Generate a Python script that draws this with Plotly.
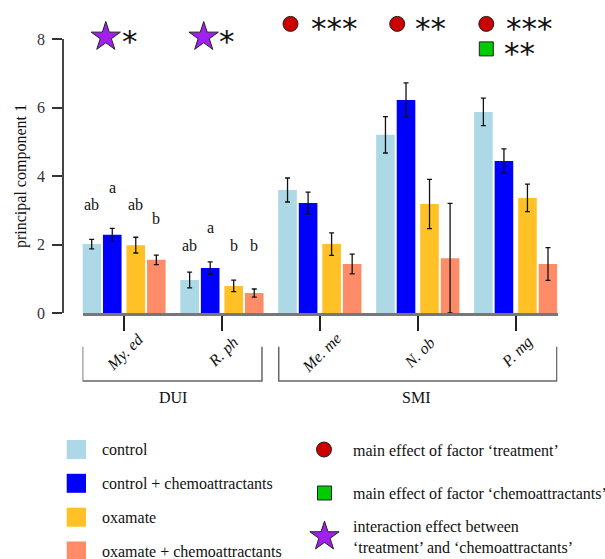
import plotly.graph_objects as go

# ---------------- data ----------------
species = ["My. ed", "R. ph", "Me. me", "N. ob", "P. mg"]
groups = ["DUI", "SMI"]
treatments = ["control", "control + chemoattractants", "oxamate", "oxamate + chemoattractants"]
colors = ["#ADD8E6", "#0000FF", "#FFC125", "#FF8C69"]

ctrl = [2.02, 0.97, 3.60, 5.21, 5.88]
ctrl_se = [0.14, 0.23, 0.35, 0.53, 0.40]
ctrl_chemo = [2.29, 1.32, 3.22, 6.23, 4.45]
ctrl_chemo_se = [0.19, 0.18, 0.32, 0.50, 0.35]
oxa = [1.99, 0.80, 2.02, 3.19, 3.37]
oxa_se = [0.23, 0.17, 0.33, 0.72, 0.40]
oxa_chemo = [1.56, 0.59, 1.44, 1.61, 1.44]
oxa_chemo_se = [0.14, 0.12, 0.29, 1.60, 0.48]

# letters (species 1 and 2) with their heights
letters = [["ab", "a", "ab", "b"], ["ab", "a", "b", "b"]]
letter_y = [[3.19, 3.66, 3.19, 2.78], [1.99, 2.50, 1.99, 1.99]]

# significance: (species index, symbol, stars, row)
sig_species = [1, 2, 3, 4, 5, 5]
sig_symbol = ["star", "star", "circle", "circle", "circle", "square"]
sig_stars = ["*", "*", "***", "**", "***", "**"]
sig_y = [8.07, 8.07, 8.45, 8.45, 8.45, 7.72]

effect_labels = ["main effect of factor ‘treatment’",
                 "main effect of factor ‘chemoattractants’",
                 "interaction effect between<br>‘treatment’ and ‘chemoattractants’"]

values = [ctrl, ctrl_chemo, oxa, oxa_chemo]
errors = [ctrl_se, ctrl_chemo_se, oxa_se, oxa_chemo_se]
offsets = [-0.33, -0.12, 0.12, 0.33]
bar_w = 0.19

W, H = 605, 559
SERIF = "Liberation Serif"
sym_color = {"star": "#A020F0", "circle": "#CD0000", "square": "#00CD00"}
sym_size = {"star": 22, "circle": 15, "square": 14}


def px(x):
    return x / W


def py(y):
    return 1 - y / H


fig = go.Figure()
xs = list(range(1, len(species) + 1))

for k in range(4):
    fig.add_trace(go.Bar(
        x=[x + offsets[k] for x in xs], y=values[k], width=bar_w,
        marker=dict(color=colors[k], line=dict(width=0)),
        error_y=dict(type="data", array=errors[k], color="#111", thickness=1.3, width=2.5),
        showlegend=False, hoverinfo="skip"))

# significance symbols on an extended y scale (same units as y)
sym_dx = {"star": -0.186, "circle": -0.30, "square": -0.30}
star_dx = {"*": 0.056, "**": 0.13, "***": 0.145}
sx, sy, ssym = [], [], []
ann = []
for i, sym, st, y in zip(sig_species, sig_symbol, sig_stars, sig_y):
    dx = sym_dx[sym] if not (i == 4 and sym == "circle") else -0.21
    sx.append(i + dx)
    sy.append(y)
    ssym.append(sym)
    tdx = star_dx[st] if not (i == 5 and sym == "square") else 0.04
    ann.append(dict(x=i + tdx, y=y - 0.03, xref="x", yref="y3", text=st, showarrow=False,
                    font=dict(family="DejaVu Sans", size=31, color="#111"),
                    xanchor="center", yanchor="middle", yshift=-3))
fig.add_trace(go.Scatter(
    x=sx, y=sy, xaxis="x", yaxis="y3", mode="markers", cliponaxis=False,
    marker=dict(symbol=ssym, size=[sym_size[s] for s in ssym], opacity=1,
                color=[sym_color[s] for s in ssym], line=dict(color="#222", width=1)),
    showlegend=False, hoverinfo="skip"))

# letters
for g in range(2):
    for k in range(4):
        ann.append(dict(x=xs[g] + offsets[k], y=letter_y[g][k], xref="x", yref="y",
                        text=letters[g][k], showarrow=False,
                        font=dict(family=SERIF, size=16, color="#111"),
                        xanchor="center", yanchor="middle"))

# species labels (rotated)
for i, s in enumerate(species):
    ann.append(dict(x=xs[i] + 0.015, y=py(352), xref="x", yref="paper",
                    text="<i>" + s + "</i>", showarrow=False, textangle=-45,
                    font=dict(family=SERIF, size=16, color="#111"),
                    xanchor="center", yanchor="middle"))

# group labels and brackets
shapes = []
brackets = [(0.577, 2.409), (2.58, 5.42)]
group_x = [1.5, 3.98]
for (x0, x1), gx, gname in zip(brackets, group_x, groups):
    shapes.append(dict(type="path", xref="x", yref="paper",
                       path=f"M {x0},{py(346.7)} L {x0},{py(381)} L {x1},{py(381)} L {x1},{py(346.7)}",
                       line=dict(color="#666", width=1.5)))
    ann.append(dict(x=gx, y=py(397), xref="x", yref="paper", text=gname, showarrow=False,
                    font=dict(family=SERIF, size=16, color="#111"),
                    xanchor="center", yanchor="middle"))

# y-axis title
ann.append(dict(x=px(21), y=py(176), xref="paper", yref="paper", text="principal component 1",
                showarrow=False, textangle=-90, font=dict(family=SERIF, size=16, color="#111"),
                xanchor="center", yanchor="middle"))

# legend (left): colour squares
row_y = [449.5, 483.3, 517.2, 551.0]
for k in range(4):
    shapes.append(dict(type="rect", xref="paper", yref="paper",
                       x0=px(66.7), x1=px(86), y0=py(row_y[k] - 9.5), y1=py(row_y[k] + 9.5),
                       fillcolor=colors[k], line=dict(width=0)))
    ann.append(dict(x=px(100), y=py(row_y[k]), xref="paper", yref="paper", text=treatments[k],
                    showarrow=False, font=dict(family=SERIF, size=16, color="#111"),
                    xanchor="left", yanchor="middle"))

# legend (right): effect symbols on a pixel-scaled full-page axis pair
leg_sym = ["circle", "square", "star"]
fig.add_trace(go.Scatter(
    x=[324, 324.5, 324.5], y=[449.5, 493, 536.5], xaxis="x2", yaxis="y2",
    mode="markers", cliponaxis=False,
    marker=dict(symbol=leg_sym, size=[sym_size[s] for s in leg_sym], opacity=1,
                color=[sym_color[s] for s in leg_sym], line=dict(color="#222", width=1)),
    showlegend=False, hoverinfo="skip"))
eff_y = [450, 493, 537]
for t, y in zip(effect_labels, eff_y):
    ann.append(dict(x=px(350.5), y=py(y), xref="paper", yref="paper", text=t, showarrow=False,
                    font=dict(family=SERIF, size=16, color="#111"), align="left",
                    xanchor="left", yanchor="middle"))

y_top_units = 313.3 / ((313.3 - 39.3) / 8)
fig.update_layout(
    width=W, height=H, margin=dict(l=0, r=0, t=0, b=0, autoexpand=False),
    plot_bgcolor="rgba(0,0,0,0)", paper_bgcolor="white", barmode="overlay",
    xaxis=dict(domain=[px(82.5), px(557.5)], range=[0.576, 5.427], tickvals=xs, anchor="y",
               showticklabels=False, ticks="outside", ticklen=15, tickwidth=1.5, tickcolor="#222",
               showline=True, linecolor="#777", linewidth=2.5, showgrid=False, zeroline=False),
    yaxis=dict(domain=[py(313.3), py(39.3)], range=[0, 8], anchor="free", position=px(63),
               tickvals=[0, 2, 4, 6, 8], ticks="outside", ticklen=10, tickwidth=1.5,
               tickcolor="#333", showline=True, linecolor="#444", linewidth=1.5,
               showgrid=False, zeroline=False, ticklabelstandoff=4,
               tickfont=dict(family=SERIF, size=16, color="#333")),
    yaxis3=dict(domain=[py(313.3), 1], range=[0, y_top_units], anchor="x", visible=False,
                showgrid=False, zeroline=False),
    xaxis2=dict(domain=[0, 1], range=[0, W], visible=False, anchor="y2"),
    yaxis2=dict(domain=[0, 1], range=[H, 0], visible=False, anchor="x2"),
    shapes=shapes, annotations=ann,
)

fig.write_html("out.html")
